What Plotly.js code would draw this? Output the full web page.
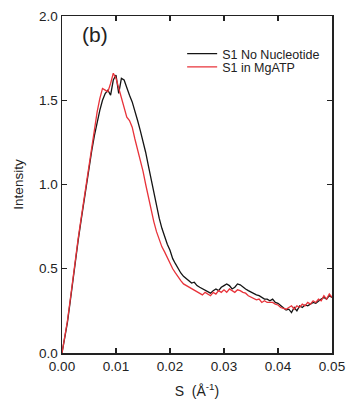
<!DOCTYPE html>
<html>
<head>
<meta charset="utf-8">
<script src="https://cdn.plot.ly/plotly-3.0.1.min.js"></script>
<style>html,body{margin:0;padding:0;background:#fff;}#chart{width:347px;height:399px;}</style>
</head>
<body>
<div id="chart"></div>
<script>
// Scattering vector S (1/Å), step 0.0005
const sValues = [
0.0000,0.0005,0.0010,0.0015,0.0020,0.0025,0.0030,0.0035,0.0040,0.0045,
0.0050,0.0055,0.0060,0.0065,0.0070,0.0075,0.0080,0.0085,0.0090,0.0095,
0.0100,0.0105,0.0110,0.0115,0.0120,0.0125,0.0130,0.0135,0.0140,0.0145,
0.0150,0.0155,0.0160,0.0165,0.0170,0.0175,0.0180,0.0185,0.0190,0.0195,
0.0200,0.0205,0.0210,0.0215,0.0220,0.0225,0.0230,0.0235,0.0240,0.0245,
0.0250,0.0255,0.0260,0.0265,0.0270,0.0275,0.0280,0.0285,0.0290,0.0295,
0.0300,0.0305,0.0310,0.0315,0.0320,0.0325,0.0330,0.0335,0.0340,0.0345,
0.0350,0.0355,0.0360,0.0365,0.0370,0.0375,0.0380,0.0385,0.0390,0.0395,
0.0400,0.0405,0.0410,0.0415,0.0420,0.0425,0.0430,0.0435,0.0440,0.0445,
0.0450,0.0455,0.0460,0.0465,0.0470,0.0475,0.0480,0.0485,0.0490,0.0495,
0.0500];

const noNucleotide = [
0.000,0.085,0.180,0.300,0.430,0.555,0.670,0.780,0.890,1.000,
1.100,1.200,1.290,1.370,1.440,1.500,1.540,1.560,1.530,1.620,
1.650,1.540,1.630,1.620,1.570,1.530,1.490,1.440,1.380,1.320,
1.260,1.190,1.110,1.030,0.950,0.870,0.800,0.740,0.690,0.645,
0.610,0.560,0.530,0.500,0.475,0.455,0.440,0.430,0.415,0.420,
0.400,0.390,0.380,0.370,0.360,0.355,0.370,0.380,0.370,0.390,
0.400,0.410,0.400,0.380,0.390,0.410,0.405,0.390,0.380,0.370,
0.360,0.350,0.345,0.340,0.330,0.320,0.320,0.310,0.320,0.300,
0.295,0.280,0.270,0.255,0.260,0.240,0.270,0.250,0.280,0.270,
0.285,0.280,0.290,0.300,0.295,0.310,0.320,0.330,0.320,0.340,
0.330];

const inMgATP = [
0.000,0.090,0.190,0.310,0.440,0.565,0.680,0.790,0.900,1.000,
1.100,1.210,1.320,1.430,1.510,1.570,1.560,1.550,1.600,1.660,
1.630,1.570,1.510,1.450,1.400,1.380,1.340,1.270,1.210,1.150,
1.080,1.000,0.920,0.850,0.780,0.720,0.670,0.630,0.600,0.565,
0.530,0.500,0.475,0.450,0.430,0.410,0.400,0.390,0.380,0.375,
0.360,0.350,0.345,0.360,0.350,0.340,0.360,0.350,0.370,0.360,
0.375,0.360,0.380,0.370,0.360,0.375,0.370,0.360,0.355,0.340,
0.330,0.325,0.315,0.320,0.300,0.310,0.300,0.300,0.300,0.290,
0.285,0.270,0.265,0.260,0.270,0.280,0.260,0.280,0.270,0.290,
0.280,0.300,0.290,0.310,0.300,0.320,0.310,0.340,0.320,0.350,
0.330];

const seriesNames = ['S1 No Nucleotide', 'S1 in MgATP'];
const xTickVals = [0, 0.01, 0.02, 0.03, 0.04, 0.05];
const xTickText = ['0.00', '0.01', '0.02', '0.03', '0.04', '0.05'];
const yTickVals = [0, 0.5, 1.0, 1.5, 2.0];
const yTickText = ['0.0', '0.5', '1.0', '1.5', '2.0'];

const FONT = 'Liberation Sans, Arial, sans-serif';

const traces = [
  {x: sValues, y: noNucleotide, name: seriesNames[0], type: 'scatter', mode: 'lines',
   legend: 'legend', line: {color: '#141414', width: 1.3}},
  {x: sValues, y: inMgATP, name: seriesNames[1], type: 'scatter', mode: 'lines',
   legend: 'legend2', line: {color: '#e8333a', width: 1.3}}
];

const axisCommon = {
  showline: true, linecolor: '#222', linewidth: 1.5, mirror: 'ticks',
  ticks: 'inside', ticklen: 5, tickwidth: 1.3, tickcolor: '#222',
  showgrid: false, zeroline: false,
  tickfont: {family: FONT, size: 13.5, color: '#222'}
};

const legendCommon = {
  xanchor: 'left', yanchor: 'middle', bgcolor: 'rgba(0,0,0,0)', borderwidth: 0,
  font: {family: FONT, size: 12.5, color: '#222'}
};

const layout = {
  width: 347, height: 399,
  margin: {l: 62, r: 15, t: 16, b: 46},
  paper_bgcolor: '#fff', plot_bgcolor: '#fff',
  showlegend: true,
  legend: Object.assign({}, legendCommon, {x: 0.445, y: 0.887}),
  legend2: Object.assign({}, legendCommon, {x: 0.445, y: 0.848}),
  xaxis: Object.assign({}, axisCommon, {
    range: [0, 0.05], tickvals: xTickVals, ticktext: xTickText,
    title: {text: 'S  (Å<sup>-1</sup>)', font: {family: FONT, size: 14, color: '#222'}, standoff: 14}
  }),
  yaxis: Object.assign({}, axisCommon, {
    range: [0, 2.0], tickvals: yTickVals, ticktext: yTickText,
    title: {text: 'Intensity', font: {family: FONT, size: 13.5, color: '#222'}, standoff: 12}
  }),
  annotations: [
    {text: '(b)', xref: 'paper', yref: 'paper', x: 0.065, y: 0.985, xanchor: 'left', yanchor: 'top',
     showarrow: false, font: {family: FONT, size: 21, color: '#222'}}
  ]
};

Plotly.newPlot('chart', traces, layout, {staticPlot: true, displayModeBar: false});
</script>
</body>
</html>
